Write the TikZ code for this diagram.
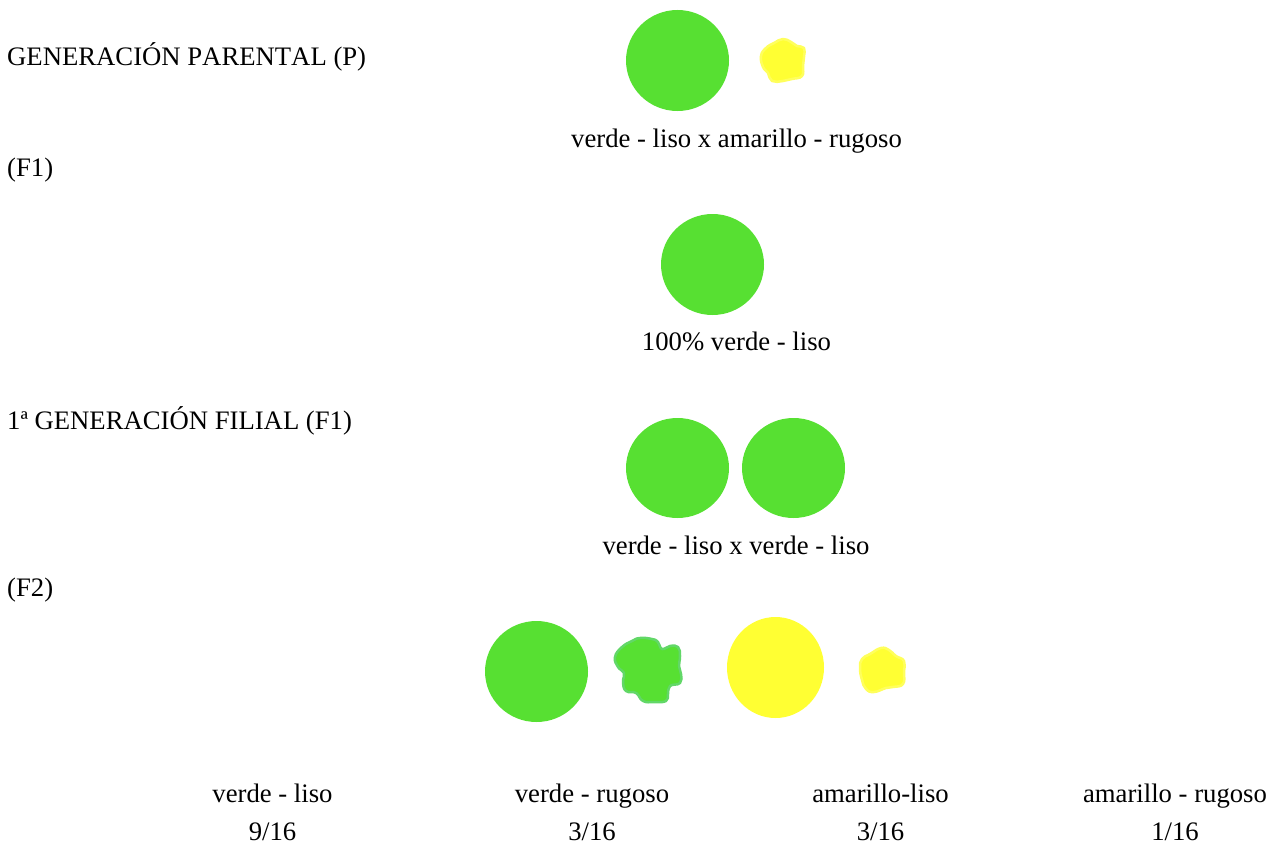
\documentclass[tikz,border=0pt]{standalone}
\usepackage{fontspec}
\setmainfont{Liberation Serif}
\newfontfamily\nokern[Kerning=Off]{Liberation Serif}
\definecolor{pea}{HTML}{57E032}
\definecolor{peaedge}{HTML}{62D768}
\definecolor{seed}{HTML}{FFFF33}
\definecolor{seededge}{HTML}{FFFF5C}
\tikzset{
  x=1pt,y=-1pt,
  lab/.style={font=\fontsize{26.7}{30}\selectfont,inner sep=0pt,anchor=base,text=black},
  labl/.style={lab,anchor=base west},
  smoothpea/.style={fill=pea,draw=none},
  smoothseed/.style={fill=seed,draw=none},
  roughpea/.style={fill=pea,draw=peaedge,line width=2.5pt,line join=round},
  roughseed/.style={fill=seed,draw=seededge,line width=2.5pt,line join=round}
}
\begin{document}
\begin{tikzpicture}
\useasboundingbox (0,0) rectangle (1274,843);
% P
\fill[smoothpea] (677.5,60.5) ellipse [x radius=51.5,y radius=50.5];
\draw[roughseed] plot[smooth cycle,tension=.8] coordinates {(761,56)(766,48)(774,43)(783,39)(791,42)(797,46)(804,48)(804,57)(803,66)(802,76)(792,79)(783,81)(772,81)(768,73)(763,67)};
% F1
\fill[smoothpea] (712.5,264.5) ellipse [x radius=51.5,y radius=50.5];
% F1 x F1
\fill[smoothpea] (677.5,468) ellipse [x radius=51.5,y radius=50];
\fill[smoothpea] (793.5,468) ellipse [x radius=51.5,y radius=50];
% F2
\fill[smoothpea] (536.5,671.5) ellipse [x radius=51.5,y radius=50.5];
\draw[roughpea] plot[smooth cycle,tension=.8] coordinates {(615,657)(622,647)(632,641)(640,638)(652,639)(658,642)(662,649)(670,646)(678,647)(680,656)(679,666)(681,674)(680,683)(670,686)(668,694)(666,701)(654,702)(643,701)(636,693)(626,691)(623,682)(624,673)(618,667)};
\fill[smoothseed] (775.5,667.5) ellipse [x radius=48.5,y radius=50.5];
\draw[roughseed] plot[smooth cycle,tension=.8] coordinates {(860,668)(862,659)(870,654)(881,648)(889,650)(896,656)(904,661)(904,672)(903,684)(893,687)(886,688)(874,692)(866,689)(862,680)};
% Texts
\node[labl] (p) at (7,66) {\nokern GENERACIÓN PARENTAL (P)};
\node[lab] (pc) at (736.5,147) {verde - liso x amarillo - rugoso};
\node[labl] (f1) at (7,176) {(F1)};
\node[lab] (f1c) at (736.5,350) {100\% verde - liso};
\node[labl] (g1) at (7,429) {1ª GENERACIÓN FILIAL (F1)};
\node[lab] (g1c) at (736,554) {verde - liso x verde - liso};
\node[labl] (f2) at (7,596) {(F2)};
\node[lab] (a1) at (272.5,802) {verde - liso};
\node[lab] (a2) at (592,802) {verde - rugoso};
\node[lab] (a3) at (880.5,802) {amarillo-liso};
\node[lab] (a4) at (1175,802) {amarillo - rugoso};
\node[lab] (b1) at (272.5,840) {9/16};
\node[lab] (b2) at (592,840) {3/16};
\node[lab] (b3) at (880.5,840) {3/16};
\node[lab] (b4) at (1175,840) {1/16};
\end{tikzpicture}
\end{document}
